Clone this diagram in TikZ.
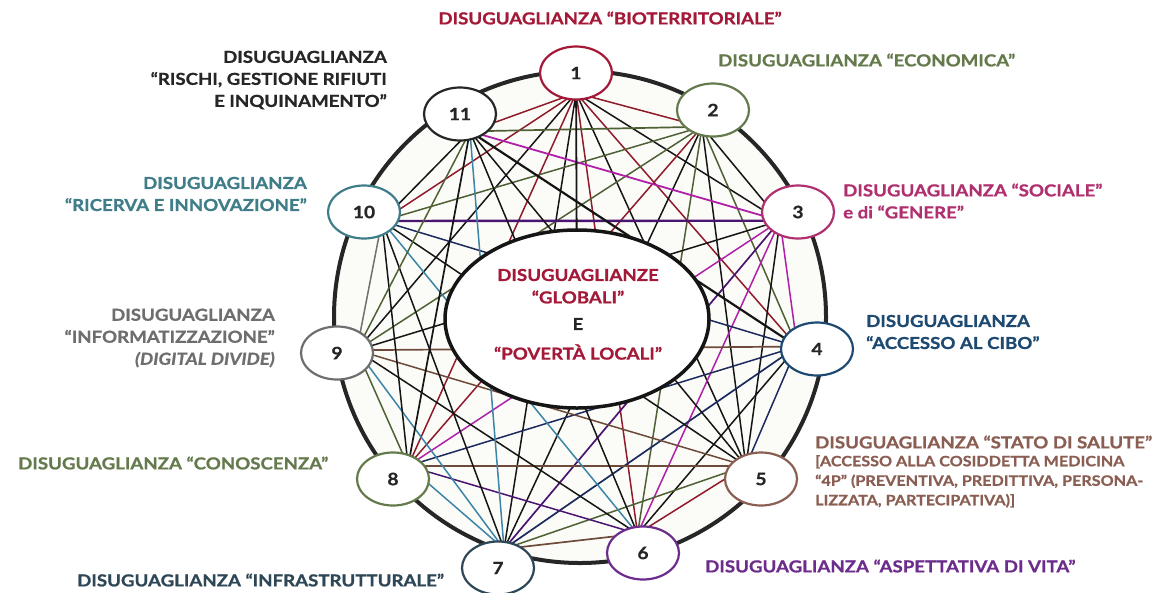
\documentclass[tikz,border=0pt]{standalone}
\usepackage{fontspec}
\setmainfont{Lato}[FakeStretch=1.13, BoldFeatures={FakeBold=0.9}, BoldItalicFeatures={FakeBold=0.9}]
\usetikzlibrary{calc,shapes.geometric}
\pgfdeclarelayer{bg}
\pgfdeclarelayer{edges}
\pgfsetlayers{bg,edges,main}
\definecolor{cRed}{HTML}{A31937}
\definecolor{cOlive}{HTML}{657A4C}
\definecolor{cMag}{HTML}{B0306F}
\definecolor{cNavy}{HTML}{1E4A72}
\definecolor{cBrown}{HTML}{8A5E52}
\definecolor{cPurp}{HTML}{6B2C8C}
\definecolor{cSlate}{HTML}{2E4756}
\definecolor{cGray}{HTML}{6E6E6E}
\definecolor{cTeal}{HTML}{3F7D88}
\definecolor{cDark}{HTML}{262626}
\definecolor{lRed}{HTML}{8E1A2A}
\definecolor{lMag}{HTML}{B01FA8}
\definecolor{lPur}{HTML}{4A1570}
\definecolor{lBlue}{HTML}{3C84A8}
\definecolor{lOl}{HTML}{4E6034}
\definecolor{lNavy}{HTML}{1C2A5E}
\definecolor{lBr}{HTML}{6E4A3A}
\definecolor{lK}{HTML}{151515}
\definecolor{lGr}{HTML}{707070}
\definecolor{inside}{HTML}{FBFCF8}
\tikzset{
  num/.style={ellipse, draw=#1, line width=2.2pt, fill=white, minimum width=72pt, minimum height=53pt, inner sep=0pt, font=\fontsize{17}{17}\selectfont\bfseries, text=cDark},
  lab/.style={inner sep=0pt, text=#1, font=\fontsize{16.5}{22}\selectfont\bfseries},
  sublab/.style={inner sep=0pt, text=#1, font=\fontsize{14.3}{19.5}\selectfont\bfseries},
  edge/.style={line width=1.5pt}
}
\begin{document}
\begin{tikzpicture}[x=1pt,y=-1pt]
\useasboundingbox (0,0) rectangle (1155,592);
\coordinate (C) at (577,319);
% nodes
\node[num=cRed]   (n1)  at (576,73)  {1};
\node[num=cOlive] (n2)  at (713,110) {2};
\node[num=cMag]   (n3)  at (798,212) {3};
\node[num=cNavy]  (n4)  at (817,349) {4};
\node[num=cBrown] (n5)  at (761,479) {5};
\node[num=cPurp]  (n6)  at (643,553) {6};
\node[num=cSlate] (n7)  at (498,568) {7};
\node[num=cOlive] (n8)  at (393,479) {8};
\node[num=cGray]  (n9)  at (337,353) {9};
\node[num=cTeal]  (n10) at (364,212) {10};
\node[num=cDark]  (n11) at (460,114) {11};
% big circle
\begin{pgfonlayer}{bg}
  \draw[line width=4pt, draw=cDark, fill=inside] (580,317) circle (246pt);
\end{pgfonlayer}
% connectors
\begin{pgfonlayer}{edges}
  \foreach \a/\b/\c/\w in {
    1/2/lRed/1.5, 1/3/lK/1.5, 1/4/lRed/1.5, 1/5/lK/1.5, 1/6/lRed/1.5,
    1/7/lK/1.5, 1/8/lRed/1.5, 1/9/lK/1.5, 1/10/lRed/1.5, 1/11/lRed/1.5,
    2/3/lK/1.5, 2/4/lOl/1.5, 2/5/lK/1.5, 2/6/lOl/1.5, 2/7/lK/1.5,
    2/8/lRed/1.5, 2/9/lOl/1.5, 2/10/lOl/1.5, 2/11/lOl/1.7,
    3/4/lMag/1.5, 3/5/lK/1.5, 3/6/lMag/1.5, 3/7/lPur/1.7, 3/8/lMag/1.5,
    3/9/lK/1.5, 3/10/lPur/2.4, 3/11/lMag/1.8,
    4/5/lNavy/1.5, 4/6/lK/1.5, 4/7/lNavy/1.7, 4/8/lNavy/1.5, 4/9/lBr/1.7,
    4/10/lNavy/1.5, 4/11/lK/2.2,
    5/6/lRed/1.5, 5/7/lOl/1.5, 5/8/lBr/1.8, 5/9/lBr/1.5, 5/10/lK/1.5, 5/11/lK/1.5,
    6/7/lBr/1.7, 6/8/lPur/1.5, 6/9/lK/1.5, 6/10/lBlue/1.5, 6/11/lK/1.5,
    7/8/lBlue/1.5, 7/9/lBlue/1.5, 7/10/lK/1.5, 7/11/lBlue/1.5,
    8/9/lOl/1.5, 8/10/lK/1.5, 8/11/lK/1.7,
    9/10/lGr/1.5, 9/11/lOl/1.5,
    10/11/lK/1.5}
  {
    \draw[edge, line width=\w pt, color=\c] ($(n\a)!20pt!(C)$) -- ($(n\b)!20pt!(C)$);
  }
  \draw[edge, lK, line width=1.8pt] (n1) -- (C);
\end{pgfonlayer}
% central ellipse
\node[ellipse, draw=lK, line width=3.5pt, fill=white, minimum width=264pt, minimum height=178pt] (ctr) at (C) {};
\node[lab=cRed] (t1) at (578,275) {DISUGUAGLIANZE};
\node[lab=cRed] (t2) at (578,297) {“GLOBALI”};
\node[lab=cDark] (t3) at (578,324) {E};
\node[lab=cRed] (t4) at (578,352) {“POVERTÀ LOCALI”};
% labels
\node[lab=cRed] (L1) at (610,18) {DISUGUAGLIANZA “BIOTERRITORIALE”};
\node[lab=cOlive, anchor=west] (L2) at (718,60) {DISUGUAGLIANZA “ECONOMICA”};
\node[lab=cMag, anchor=west, align=left] (L3) at (843,201) {DISUGUAGLIANZA “SOCIALE”\\e di “GENERE”};
\node[lab=cNavy, anchor=west, align=left] (L4) at (866,332) {DISUGUAGLIANZA\\“ACCESSO AL CIBO”};
\node[lab=cBrown, anchor=west] (L5) at (815,442) {DISUGUAGLIANZA “STATO DI SALUTE”};
\node[sublab=cBrown, anchor=north west, align=left] (L5b) at (815,455) {[ACCESSO ALLA COSIDDETTA MEDICINA\\“4P” (PREVENTIVA, PREDITTIVA, PERSONA-\\LIZZATA, PARTECIPATIVA)]};
\node[lab=cPurp, anchor=west] (L6) at (705,566) {DISUGUAGLIANZA “ASPETTATIVA DI VITA”};
\node[lab=cSlate, anchor=west] (L7) at (77,580) {DISUGUAGLIANZA “INFRASTRUTTURALE”};
\node[lab=cOlive, anchor=west] (L8) at (18,463) {DISUGUAGLIANZA “CONOSCENZA”};
\node[lab=cGray, anchor=east, align=right] (L9) at (275,338) {DISUGUAGLIANZA\\“INFORMATIZZAZIONE”\\\itshape(DIGITAL DIVIDE)};
\node[lab=cTeal, anchor=east, align=right] (L10) at (307,194) {DISUGUAGLIANZA\\“RICERVA E INNOVAZIONE”};
\node[lab=cDark, anchor=east, align=right] (L11) at (387,80) {DISUGUAGLIANZA\\“RISCHI, GESTIONE RIFIUTI\\E INQUINAMENTO”};
\end{tikzpicture}
\end{document}
